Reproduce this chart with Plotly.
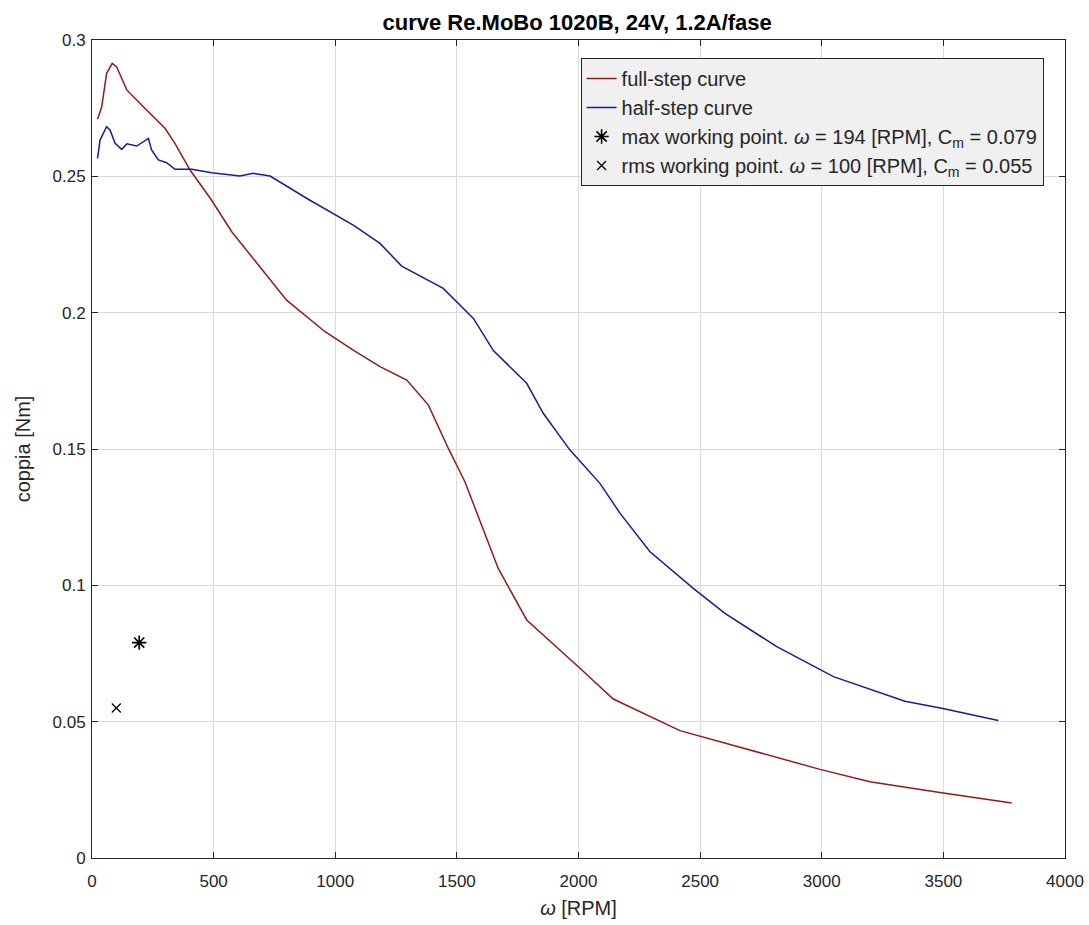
import plotly.graph_objects as go

# full-step curve (omega [RPM], torque [Nm])
full_x = [23, 40, 60, 83, 101, 143, 211, 300, 341, 403, 489, 576, 800, 958, 1074, 1184,
          1294, 1383, 1465, 1533, 1670, 1787, 2006, 2143, 2417, 2774, 2993, 3198, 3486, 3781]
full_y = [0.2709, 0.2755, 0.2878, 0.2914, 0.2902, 0.2817, 0.2755, 0.2676, 0.2621, 0.2523,
          0.2416, 0.2295, 0.2046, 0.1930, 0.1863, 0.1802, 0.1753, 0.1661, 0.1502, 0.1380,
          0.1062, 0.0873, 0.0696, 0.0583, 0.0467, 0.0378, 0.0325, 0.0280, 0.0240, 0.0202]

# half-step curve
half_x = [23, 33, 60, 74, 95, 122, 143, 184, 232, 245, 273, 307, 341, 410, 492, 608, 663,
          732, 889, 992, 1074, 1184, 1273, 1444, 1568, 1650, 1787, 1855, 1965, 2088, 2171,
          2294, 2472, 2602, 2815, 3048, 3342, 3493, 3726]
half_y = [0.2566, 0.2633, 0.2682, 0.2670, 0.2621, 0.2599, 0.2619, 0.2611, 0.2639, 0.2597,
          0.2560, 0.2550, 0.2526, 0.2526, 0.2513, 0.2501, 0.2511, 0.2501, 0.2416, 0.2364,
          0.2321, 0.2254, 0.2171, 0.2089, 0.1979, 0.1861, 0.1741, 0.1631, 0.1496, 0.1374,
          0.1264, 0.1123, 0.0989, 0.0897, 0.0775, 0.0665, 0.0575, 0.0549, 0.0504]

# working points
max_pt = (194, 0.079)
rms_pt = (100, 0.055)

x_ticks = [0, 500, 1000, 1500, 2000, 2500, 3000, 3500, 4000]
y_ticks = [0, 0.05, 0.1, 0.15, 0.2, 0.25, 0.3]
y_tick_text = ["0", "0.05", "0.1", "0.15", "0.2", "0.25", "0.3"]

FONT = "Liberation Sans, Arial, Helvetica, sans-serif"
AX = "#262626"

fig = go.Figure()
fig.add_trace(go.Scatter(x=full_x, y=full_y, mode="lines", name="full-step curve",
                         line=dict(color="#921b1b", width=1.5), legendgroup="a"))
fig.add_trace(go.Scatter(x=half_x, y=half_y, mode="lines", name="half-step curve",
                         line=dict(color="#1b1b92", width=1.5), legendgroup="b"))
fig.add_trace(go.Scatter(x=[max_pt[0]], y=[max_pt[1]], mode="markers",
                         name="max working point. <i>ω</i> = 194 [RPM], C<sub>m</sub> = 0.079",
                         marker=dict(symbol="asterisk-open", size=12, color="black",
                                     line=dict(color="black", width=1.6)), legendgroup="c"))
fig.add_trace(go.Scatter(x=[rms_pt[0]], y=[rms_pt[1]], mode="markers",
                         name="rms working point. <i>ω</i> = 100 [RPM], C<sub>m</sub> = 0.055",
                         marker=dict(symbol="x-thin-open", size=9, color="black",
                                     line=dict(color="black", width=1.2)), legendgroup="d"))

axis_common = dict(showline=True, linecolor=AX, linewidth=1, mirror="ticks",
                   ticks="inside", ticklen=6, tickcolor=AX, showgrid=True,
                   gridcolor="#dadada", gridwidth=1, zeroline=False, automargin=False,
                   tickfont=dict(family=FONT, size=17, color=AX))

fig.update_xaxes(range=[0, 4000], tickvals=x_ticks, ticklabelstandoff=8,
                 ticklabeloverflow="allow",
                 title=dict(text="<i>ω</i> [RPM]", font=dict(family=FONT, size=20, color=AX),
                            standoff=10),
                 **axis_common)
fig.update_yaxes(range=[0, 0.3], tickvals=y_ticks, ticktext=y_tick_text, ticklabelstandoff=2,
                 title=dict(text="coppia [Nm]", font=dict(family=FONT, size=20, color=AX),
                            standoff=16),
                 **axis_common)

fig.update_layout(
    width=1089, height=925,
    margin=dict(l=92, r=24, t=40, b=67),
    paper_bgcolor="white", plot_bgcolor="white",
    font=dict(family=FONT, color=AX),
    title=dict(text="<b>curve Re.MoBo 1020B, 24V, 1.2A/fase</b>",
               font=dict(family=FONT, size=22, color="black"),
               x=0.53, xanchor="center", y=1 - 22 / 925, yref="container", yanchor="middle"),
    showlegend=True,
    legend=dict(x=0.978, xanchor="right", y=0.978, yanchor="top",
                bgcolor="#f0f0f0", bordercolor=AX, borderwidth=1,
                font=dict(family=FONT, size=20, color=AX),
                traceorder="grouped", tracegroupgap=0),
)

fig.write_html("out.html")
